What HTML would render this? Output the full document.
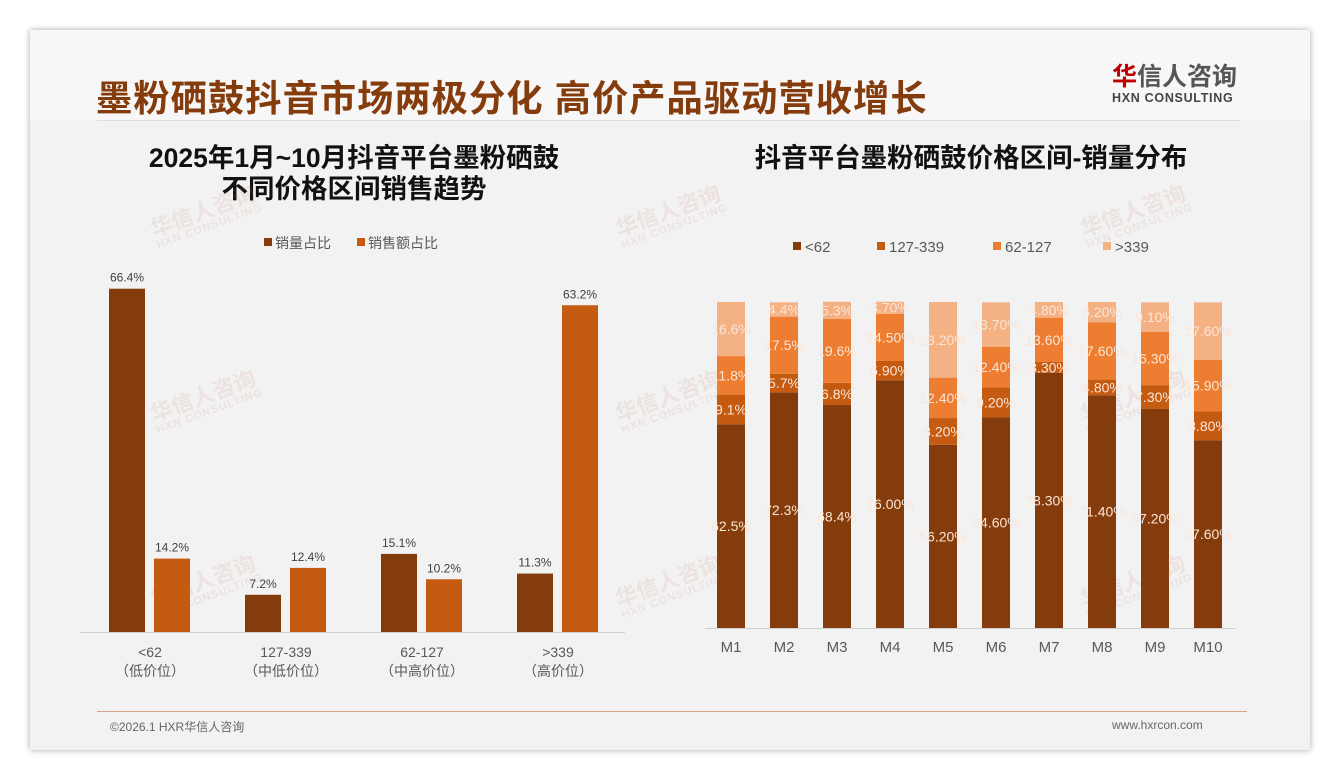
<!DOCTYPE html>
<html><head><meta charset="utf-8">
<style>
body{margin:0;width:1340px;height:780px;background:#fff;font-family:"Liberation Sans","Noto Sans CJK SC",sans-serif;position:relative;overflow:hidden}
#slide{position:absolute;left:30px;top:30px;width:1280px;height:720px;background:#f2f2f2;box-shadow:0 0 6px rgba(0,0,0,.35)}
.abs{position:absolute}
.wm{position:absolute;color:rgba(200,120,100,.13);font-weight:bold;font-size:22px;transform:rotate(-20deg);line-height:1}
.wm small{display:block;font-size:11px;letter-spacing:1px}
</style></head><body>
<div id="slide">
<div class="abs" style="left:0;top:0;width:1280px;height:90px;background:#f7f7f7"></div>
<div class="abs" style="left:66px;top:40px;font-size:36.3px;font-weight:bold;color:#843c0c;letter-spacing:1px;white-space:nowrap">墨粉硒鼓抖音市场两极分化 高价产品驱动营收增长</div>
<div class="abs" style="left:1082px;top:34px;font-weight:bold;font-size:25px;line-height:26px"><span style="color:#c00000">华</span><span style="color:#555">信人咨询</span><div style="font-size:12.5px;color:#444;letter-spacing:.7px;line-height:16px">HXN CONSULTING</div></div>
<div class="abs" style="left:67px;top:90px;width:1143px;height:1px;background:#ddd"></div>
<div class="abs" style="left:54px;top:113px;width:540px;text-align:center;font-size:26.5px;font-weight:bold;line-height:31px;color:#111">2025年1月~10月抖音平台墨粉硒鼓<br>不同价格区间销售趋势</div>
<div class="abs" style="left:631px;top:113px;width:620px;text-align:center;font-size:26.5px;font-weight:bold;line-height:31px;color:#111">抖音平台墨粉硒鼓价格区间-销量分布</div>
<div class="wm" style="left:120px;top:170px">华信人咨询<small>HXN CONSULTING</small></div>
<div class="wm" style="left:585px;top:170px">华信人咨询<small>HXN CONSULTING</small></div>
<div class="wm" style="left:1050px;top:170px">华信人咨询<small>HXN CONSULTING</small></div>
<div class="wm" style="left:120px;top:355px">华信人咨询<small>HXN CONSULTING</small></div>
<div class="wm" style="left:585px;top:355px">华信人咨询<small>HXN CONSULTING</small></div>
<div class="wm" style="left:1050px;top:355px">华信人咨询<small>HXN CONSULTING</small></div>
<div class="wm" style="left:120px;top:540px">华信人咨询<small>HXN CONSULTING</small></div>
<div class="wm" style="left:585px;top:540px">华信人咨询<small>HXN CONSULTING</small></div>
<div class="wm" style="left:1050px;top:540px">华信人咨询<small>HXN CONSULTING</small></div>
<div class="abs" style="left:67px;top:681px;width:1150px;height:1px;background:#d9a58a"></div>
<div class="abs" style="left:80px;top:688px;font-size:12px;color:#666">©2026.1 HXR华信人咨询</div>
<div class="abs" style="left:1082px;top:688px;font-size:12px;color:#666">www.hxrcon.com</div>
</div>
<svg id="chart" width="1340" height="780" style="position:absolute;left:0;top:0"></svg>
<script>
const leftCats=["<62","127-339","62-127",">339"];
const leftSub=["（低价位）","（中低价位）","（中高价位）","（高价位）"];
const volShare=[66.4,7.2,15.1,11.3];
const revShare=[14.2,12.4,10.2,63.2];
const months=["M1","M2","M3","M4","M5","M6","M7","M8","M9","M10"];
const sLow=[62.5,72.3,68.4,76.0,56.2,64.6,78.3,71.4,67.2,57.6];
const sMidLow=[9.1,5.7,6.8,5.9,8.2,9.2,3.3,4.8,7.3,8.8];
const sMidHigh=[11.8,17.5,19.6,14.5,12.4,12.4,13.6,17.6,16.3,15.9];
const sHigh=[16.6,4.4,5.3,3.7,23.2,13.7,4.8,6.2,9.1,17.6];
const lowLbl=["62.5%","72.3%","68.4%","76.00%","56.20%","64.60%","78.30%","71.40%","67.20%","57.60%"];
const mlLbl=["9.1%","5.7%","6.8%","5.90%","8.20%","9.20%","3.30%","4.80%","7.30%","8.80%"];
const mhLbl=["11.8%","17.5%","19.6%","14.50%","12.40%","12.40%","13.60%","17.60%","16.30%","15.90%"];
const hLbl=["16.6%","4.4%","5.3%","3.70%","23.20%","13.70%","4.80%","6.20%","9.10%","17.60%"];
const NS="http://www.w3.org/2000/svg";
const svg=document.getElementById('chart');
function mk(t,a,txt){const e=document.createElementNS(NS,t);for(const k in a)e.setAttribute(k,a[k]);if(txt!=null)e.textContent=txt;svg.appendChild(e);return e;}
const FF='"Liberation Sans","Noto Sans CJK SC",sans-serif';
const lBase=632,lScale=5.17;
const ly=v=>lBase-v*lScale;
const lx=i=>150+i*136;
let ax=mk('line',{x1:80,x2:625,y1:lBase+0.5,y2:lBase+0.5,stroke:'#d0d0d0'});

volShare.forEach((v,i)=>{
 const r=mk('rect',{x:lx(i)-41,y:ly(v),width:36,height:v*lScale,fill:'#843c0c'});
 
 const t=mk('text',{x:lx(i)-23,y:ly(v)-7,'text-anchor':'middle','font-size':12,fill:'#404040','font-family':FF},v.toFixed(1)+'%');
 
});
revShare.forEach((v,i)=>{
 const r=mk('rect',{x:lx(i)+4,y:ly(v),width:36,height:v*lScale,fill:'#c55a11'});
 
 const t=mk('text',{x:lx(i)+22,y:ly(v)-7,'text-anchor':'middle','font-size':12,fill:'#404040','font-family':FF},v.toFixed(1)+'%');
 
});
leftCats.forEach((c,i)=>{
 const t=mk('text',{x:lx(i),y:657,'text-anchor':'middle','font-size':14,fill:'#595959','font-family':FF},c);
 
 const s=mk('text',{x:lx(i),y:676,'text-anchor':'middle','font-size':14,fill:'#595959','font-family':FF},leftSub[i]);
 
});
[[264,'#843c0c','销量占比'],[357,'#c55a11','销售额占比']].forEach(([x,c,l])=>{
 const r=mk('rect',{x:x,y:238,width:8,height:8,fill:c});
 
 const t=mk('text',{x:x+11,y:248,'font-size':14,fill:'#595959','font-family':FF},l);
 
});
const rBase=628,rTop=302,rH=rBase-rTop;
const ry=v=>rBase-v/100*rH;
const rx=i=>731+i*53;
let ax2=mk('line',{x1:705,x2:1236,y1:rBase+0.5,y2:rBase+0.5,stroke:'#d0d0d0'});

const series=[[sLow,'#843c0c',lowLbl,'low'],[sMidLow,'#c55a11',mlLbl,'midlow'],[sMidHigh,'#ed7d31',mhLbl,'midhigh'],[sHigh,'#f4b183',hLbl,'high']];
months.forEach((m,i)=>{
 let cum=0;
 series.forEach(([arr,col,lbl,nm])=>{
  const v=arr[i];
  const r=mk('rect',{x:rx(i)-14,y:ry(cum+v),width:28,height:ry(cum)-ry(cum+v),fill:col});
  
  const t=mk('text',{x:rx(i),y:(ry(cum)+ry(cum+v))/2+5,'text-anchor':'middle','font-size':14,fill:'#fbe5d6','font-family':FF},lbl[i]);
  
  cum+=v;
 });
 const t=mk('text',{x:rx(i),y:652,'text-anchor':'middle','font-size':15,fill:'#595959','font-family':FF},m);
 
});
[[793,'#843c0c','<62'],[877,'#c55a11','127-339'],[993,'#ed7d31','62-127'],[1103,'#f4b183','>339']].forEach(([x,c,l])=>{
 const r=mk('rect',{x:x,y:242,width:8,height:8,fill:c});
 
 const t=mk('text',{x:x+12,y:252,'font-size':15,fill:'#595959','font-family':FF},l);
 
});
</script>
</body></html>
